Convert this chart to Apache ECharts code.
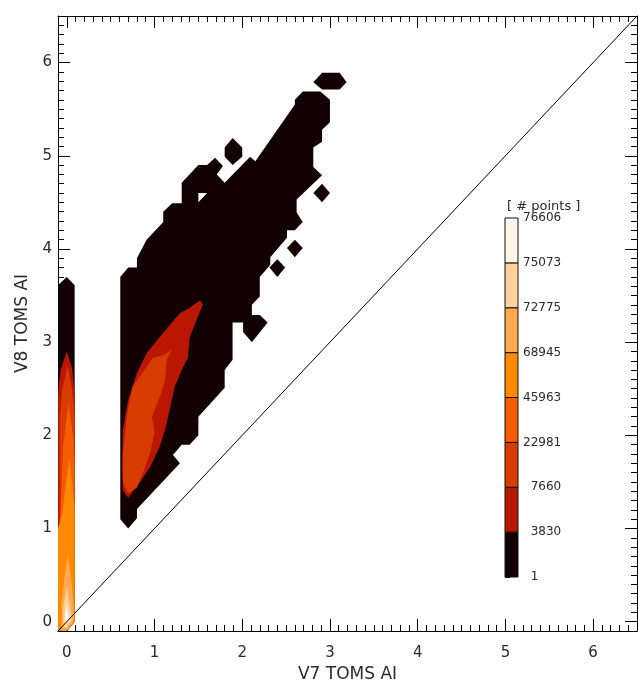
<!DOCTYPE html>
<html><head><meta charset="utf-8">
<script src="https://cdn.jsdelivr.net/npm/echarts@6/dist/echarts.min.js"></script>
<style>html,body{margin:0;padding:0;background:#fff}#c{width:638px;height:680px}</style>
</head><body><div id="c"></div>
<script>
// ---- axes ----
const axisMin = -0.1, axisMax = 6.5;
const xMajorTicks = [0, 1, 2, 3, 4, 5, 6];
const yMajorTicks = [0, 1, 2, 3, 4, 5, 6];
const xTitle = 'V7 TOMS AI';
const yTitle = 'V8 TOMS AI';

// ---- colour bar ----
const colorbarTitle = '[ # points ]';
const colorbarLabels = ['1', '3830', '7660', '22981', '45963', '68945', '72775', '75073', '76606'];
const levelColors = ['#120002', '#BA1600', '#D83C00', '#F55D00', '#FF8A00', '#FFAA50', '#FFD19C', '#FFF4E8'];

// ---- contour polygons (data units: [V7 AI, V8 AI]) ----
const mainBlob = [[0.70,1.00],[0.61,1.10],[0.61,3.70],[0.70,3.80],[0.80,3.80],[0.80,3.90],[0.91,4.10],[1.10,4.29],[1.10,4.40],[1.20,4.49],[1.31,4.49],[1.31,4.71],[1.50,4.90],[1.60,4.90],[1.69,4.98],[1.78,4.89],[1.71,4.80],[1.80,4.71],[2.09,4.99],[2.15,4.94],[2.60,5.55],[2.60,5.60],[2.69,5.69],[2.89,5.69],[3.00,5.60],[3.00,5.36],[2.91,5.28],[2.91,5.15],[2.81,5.09],[2.81,4.88],[2.91,4.79],[2.62,4.53],[2.62,4.39],[2.69,4.29],[2.60,4.20],[2.51,4.20],[2.51,4.12],[2.32,3.91],[2.32,3.83],[2.20,3.70],[2.20,3.49],[2.11,3.40],[2.11,3.29],[2.20,3.29],[2.29,3.21],[2.11,3.00],[2.01,3.11],[2.01,3.21],[1.89,3.21],[1.89,2.81],[1.80,2.70],[1.80,2.51],[1.50,2.20],[1.50,2.00],[1.40,1.90],[1.31,1.90],[1.21,1.79],[1.29,1.70],[0.80,1.21],[0.80,1.11]];
const blobHole = [[1.50,4.60],[1.60,4.60],[1.50,4.50]];
const islandTop = [[2.81,5.79],[2.91,5.89],[3.11,5.89],[3.19,5.79],[3.11,5.71],[2.91,5.71]];
const islandLeft = [[1.89,5.19],[2.00,5.09],[2.00,4.99],[1.89,4.90],[1.80,4.99],[1.80,5.09]];
const islandRight1 = [[2.91,4.70],[3.00,4.60],[2.91,4.50],[2.81,4.60]];
const islandRight2 = [[2.60,4.10],[2.69,4.01],[2.60,3.91],[2.51,4.01]];
const islandRight3 = [[2.40,3.89],[2.49,3.80],[2.40,3.70],[2.31,3.80]];
const blobLevel2 = [[1.52,3.45],[1.55,3.40],[1.48,3.24],[1.40,3.05],[1.38,2.83],[1.31,2.70],[1.23,2.52],[1.18,2.30],[1.12,2.06],[1.06,1.88],[0.95,1.66],[0.83,1.49],[0.70,1.33],[0.64,1.41],[0.63,1.66],[0.64,2.06],[0.70,2.38],[0.80,2.67],[0.91,2.88],[1.10,3.10],[1.29,3.31],[1.40,3.37]];
const blobLevel3 = [[1.20,2.92],[1.14,2.81],[1.12,2.59],[1.06,2.41],[0.97,2.20],[1.00,2.03],[0.95,1.81],[0.87,1.60],[0.80,1.44],[0.70,1.38],[0.64,1.49],[0.64,1.81],[0.69,2.24],[0.75,2.52],[0.86,2.67],[0.98,2.83],[1.10,2.86]];

const columnLevel1 = [[-0.10,-0.10],[-0.10,3.61],[0.00,3.70],[0.09,3.61],[0.09,0.00],[0.00,-0.10]];
const columnLevel2 = [[-0.10,-0.10],[-0.10,2.45],[-0.07,2.70],[0.00,2.90],[0.06,2.72],[0.09,2.45],[0.09,0.00],[0.00,-0.10]];
const columnLevel3 = [[-0.10,-0.10],[-0.10,0.90],[-0.08,1.10],[-0.08,2.20],[-0.05,2.50],[0.01,2.74],[0.06,2.50],[0.09,2.20],[0.09,0.00],[0.00,-0.10]];
const columnLevel4 = [[-0.10,-0.10],[-0.10,0.60],[-0.06,1.40],[-0.04,1.90],[0.02,2.35],[0.07,2.00],[0.09,1.70],[0.09,0.00],[0.00,-0.10]];
const columnLevel5 = [[-0.10,-0.10],[-0.10,1.00],[-0.05,1.15],[-0.02,1.40],[0.03,1.75],[0.07,1.40],[0.09,1.20],[0.09,0.00],[0.00,-0.10]];
const columnLevel6 = [[-0.06,-0.10],[-0.06,0.20],[-0.03,0.45],[0.01,0.72],[0.05,0.45],[0.08,0.15],[0.08,0.00],[0.00,-0.09]];
const columnLevel7 = [[-0.04,-0.06],[-0.04,0.15],[0.00,0.38],[0.04,0.15],[0.06,0.02],[0.00,-0.07]];
const columnLevel8 = [[-0.02,0.00],[-0.02,0.08],[0.00,0.20],[0.02,0.08],[0.02,0.00]];

const oneToOne = [[-0.1,-0.1],[6.5,6.5]];

const FONT = "'DejaVu Sans', 'Liberation Sans', sans-serif";
const TXT = '#2a2a2a';

const minorTicks = [];
for (let k = -1; k <= 65; k++) minorTicks.push(k / 10);

function polySeries(points, color, z) {
  return {
    type: 'custom', coordinateSystem: 'cartesian2d', xAxisIndex: 0, yAxisIndex: 0,
    clip: true, silent: true, z: z, data: points,
    renderItem: function (params, api) {
      if (params.dataIndex !== 0) return null;
      return { type: 'polygon', shape: { points: points.map(p => api.coord(p)) }, style: { fill: color } };
    }
  };
}

function makeAxis(kind, pos, major) {
  return {
    type: 'value', min: axisMin, max: axisMax, position: pos, gridIndex: 0,
    axisLine: { show: major, onZero: false, lineStyle: { color: '#000', width: 1 } },
    axisTick: { show: true, inside: true, length: major ? 12 : 6, customValues: major ? (kind === 'x' ? xMajorTicks : yMajorTicks) : minorTicks, lineStyle: { color: '#000', width: 1 } },
    axisLabel: { show: false },
    splitLine: { show: false }
  };
}

const xAxes = [makeAxis('x', 'bottom', true), makeAxis('x', 'bottom', false), makeAxis('x', 'top', true), makeAxis('x', 'top', false)];
xAxes[0].axisLabel = { show: true, customValues: xMajorTicks, margin: 15, fontSize: 15, color: TXT, fontFamily: FONT };
xAxes[0].name = xTitle; xAxes[0].nameLocation = 'middle'; xAxes[0].nameGap = 25;
xAxes[0].nameTextStyle = { fontSize: 17, color: TXT, fontFamily: FONT };
const yAxes = [makeAxis('y', 'left', true), makeAxis('y', 'left', false), makeAxis('y', 'right', true), makeAxis('y', 'right', false)];
yAxes[0].axisLabel = { show: true, customValues: yMajorTicks, margin: 6, fontSize: 15, color: TXT, fontFamily: FONT };
yAxes[0].name = yTitle; yAxes[0].nameLocation = 'middle'; yAxes[0].nameGap = 27;
yAxes[0].nameTextStyle = { fontSize: 17, color: TXT, fontFamily: FONT };

xAxes.push({ type: 'value', gridIndex: 1, min: 0, max: 1, show: false });
yAxes.push({
  type: 'value', gridIndex: 1, min: 0, max: colorbarLabels.length - 1, interval: 1, position: 'right',
  axisLine: { show: false },
  axisTick: { show: true, inside: false, length: 5, lineStyle: { color: '#000', width: 1 } },
  axisLabel: {
    margin: 5, fontSize: 12, color: TXT, fontFamily: FONT, showMinLabel: true, showMaxLabel: true,
    formatter: function (v) { const s = colorbarLabels[Math.round(v)] || ''; return s.length < 5 ? '\u2007' + s : s; }
  },
  splitLine: { show: false }
});

const series = [
  polySeries(mainBlob, levelColors[0], 2),
  polySeries(blobHole, '#ffffff', 3),
  polySeries(islandTop, levelColors[0], 3),
  polySeries(islandLeft, levelColors[0], 3),
  polySeries(islandRight1, levelColors[0], 3),
  polySeries(islandRight2, levelColors[0], 3),
  polySeries(islandRight3, levelColors[0], 3),
  polySeries(blobLevel2, levelColors[1], 4),
  polySeries(blobLevel3, levelColors[2], 5),
  polySeries(columnLevel1, levelColors[0], 2),
  polySeries(columnLevel2, levelColors[1], 3),
  polySeries(columnLevel3, levelColors[2], 4),
  polySeries(columnLevel4, levelColors[3], 5),
  polySeries(columnLevel5, levelColors[4], 6),
  polySeries(columnLevel6, levelColors[5], 7),
  polySeries(columnLevel7, levelColors[6], 8),
  polySeries(columnLevel8, levelColors[7], 9),
  {
    type: 'line', xAxisIndex: 0, yAxisIndex: 0, data: oneToOne, symbol: 'none', silent: true, z: 10,
    lineStyle: { color: '#000', width: 1 }, clip: true
  },
  {
    type: 'custom', coordinateSystem: 'cartesian2d', xAxisIndex: 4, yAxisIndex: 4, silent: true, z: 2,
    data: levelColors.map((c, i) => [0, i]),
    renderItem: function (params, api) {
      const i = api.value(1);
      const p0 = api.coord([0, i]), p1 = api.coord([1, i + 1]);
      return { type: 'rect', shape: { x: p0[0], y: p1[1], width: p1[0] - p0[0], height: p0[1] - p1[1] },
        style: { fill: levelColors[i], stroke: '#111', lineWidth: 1 } };
    }
  }
];

const chart = echarts.init(document.getElementById('c'), null, { renderer: 'canvas' });
chart.setOption({
  animation: false,
  backgroundColor: '#ffffff',
  title: { text: colorbarTitle, left: 502, top: 195, textStyle: { fontSize: 13, fontWeight: 'normal', color: TXT, fontFamily: FONT } },
  grid: [
    { left: 58, top: 16, right: 1, bottom: 49, outerBoundsMode: 'none', containLabel: false },
    { left: 505, top: 218, width: 13, height: 359, outerBoundsMode: 'none', containLabel: false }
  ],
  xAxis: xAxes,
  yAxis: yAxes,
  series: series
});
</script>
</body></html>
